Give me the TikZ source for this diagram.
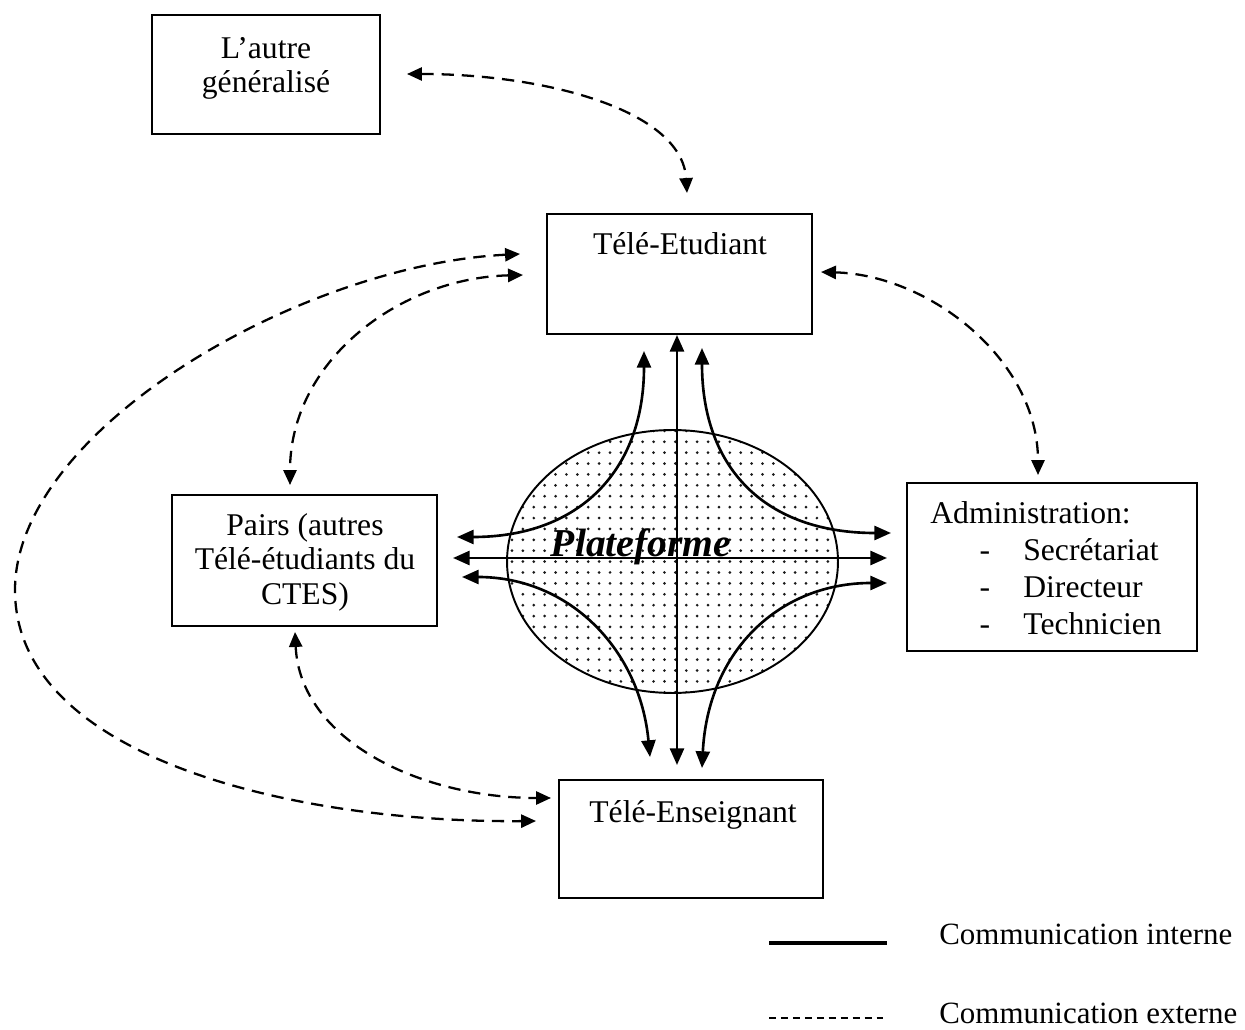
\documentclass[tikz,border=0pt]{standalone}
\usepackage{fontspec}
\setmainfont{Liberation Serif}
\usetikzlibrary{arrows.meta,patterns.meta,shapes.geometric}
\begin{document}
\begin{tikzpicture}[x=0.02cm,y=-0.02cm,
  txt/.style={font=\fontsize{18}{19.5}\selectfont, inner sep=0pt, align=center},
  box/.style={draw, line width=1.1pt, inner sep=0pt, outer sep=0pt},
  internal/.style={line width=1.5pt,
    {Triangle[length=9.5pt,width=8pt]}-{Triangle[length=9.5pt,width=8pt]}},
  external/.style={line width=1.3pt, dash pattern=on 7pt off 4.5pt,
    {Triangle[length=8.5pt,width=7.5pt]}-{Triangle[length=8.5pt,width=7.5pt]}},
]
\useasboundingbox (0,0) rectangle (1245,1030);

% platform
\node (plat) [ellipse, draw, line width=1.1pt, minimum width=6.62cm, minimum height=5.26cm,
  pattern={Dots[distance=6.2pt,radius=0.85pt]}, pattern color=black!90] at (672.5,561.5) {};

% boxes
\node (autre) [box, minimum width=4.56cm, minimum height=2.38cm] at (266,74.5) {};
\node (etud)  [box, minimum width=5.3cm,  minimum height=2.4cm]  at (679.5,274) {};
\node (pairs) [box, minimum width=5.3cm,  minimum height=2.62cm] at (304.5,560.5) {};
\node (admin) [box, minimum width=5.8cm,  minimum height=3.36cm] at (1052,567) {};
\node (ens)   [box, minimum width=5.28cm, minimum height=2.36cm] at (691,839) {};

% box texts (base anchor = last line)
\node[txt, anchor=base] (autre-t) at (266,93) {L’autre\\généralisé};
\node[txt, anchor=base] (etud-t) at (680,255) {Télé-Etudiant};
\node[txt, anchor=base] (pairs-t) at (305,604) {Pairs (autres\\Télé-étudiants du\\CTES)};
\node[txt, anchor=base] (ens-t) at (693,822) {Télé-Enseignant};
\node[txt, anchor=base west] (adm0) at (930,524) {Administration:};
\foreach \y/\s [count=\i] in {561/Secrétariat,598/Directeur,635/Technicien}{
  \node[txt, anchor=base] (dash\i) at (985,\y) {-};
  \node[txt, anchor=base west] (adm\i) at (1023,\y) {\s};
}
\node[anchor=base, inner sep=0pt, font=\fontsize{22.5}{24}\selectfont\bfseries\itshape] (plat-t) at (641,557) {Plateforme};

% end points of the connectors
\coordinate (etud-s)  at (677,335);
\coordinate (ens-n)   at (677,765);
\coordinate (pairs-e) at (453,558);
\coordinate (admin-w) at (887,558);
\coordinate (ul-a) at (644,351);  \coordinate (ul-b) at (457,537);
\coordinate (ur-a) at (702,348);  \coordinate (ur-b) at (891,533);
\coordinate (ll-a) at (462,577);  \coordinate (ll-b) at (650,757);
\coordinate (lr-a) at (887,583);  \coordinate (lr-b) at (702,768);

% internal communication
\draw[internal] (etud-s) -- (ens-n);
\draw[internal] (pairs-e) -- (admin-w);
\draw[internal] (ul-a) .. controls (644,470) and (580,537) .. (ul-b);
\draw[internal] (ur-a) .. controls (702,470) and (767,533) .. (ur-b);
\draw[internal] (ll-a) .. controls (570,577) and (640,650) .. (ll-b);
\draw[internal] (lr-a) .. controls (780,583) and (708,650) .. (lr-b);

% external communication
\coordinate (autre-e) at (407,74);   \coordinate (etud-n)  at (687,193);
\coordinate (etud-e)  at (821,272);  \coordinate (admin-n) at (1038,475);
\coordinate (etud-w1) at (520,254);  \coordinate (etud-w2) at (523,275);
\coordinate (pairs-n) at (290,485);  \coordinate (pairs-s) at (295,632);
\coordinate (ens-w1)  at (551,798);  \coordinate (ens-w2)  at (536,821);
\draw[external] (autre-e) .. controls (545,74) and (682,110) .. (etud-n);
\draw[external] (etud-e) .. controls (930,275) and (1038,360) .. (admin-n);
\draw[external] (etud-w2) .. controls (400,278) and (290,360) .. (pairs-n);
\draw[external] (etud-w1) .. controls (300,265) and (15,430) .. (15,590)
                          .. controls (15,760) and (300,823) .. (ens-w2);
\draw[external] (pairs-s) .. controls (300,740) and (420,798) .. (ens-w1);

% legend
\coordinate (li-a) at (769,943); \coordinate (li-b) at (887,943);
\coordinate (le-a) at (769,1018); \coordinate (le-b) at (883,1018);
\draw[line width=2.3pt] (li-a) -- (li-b);
\draw[line width=0.8pt, dash pattern=on 4pt off 2.8pt] (le-a) -- (le-b);
\node[txt, anchor=base west, font=\fontsize{17.6}{19.5}\selectfont] (leg-i) at (939,944) {Communication interne};
\node[txt, anchor=base west, font=\fontsize{17.6}{19.5}\selectfont] (leg-e) at (939,1023) {Communication externe};
\end{tikzpicture}
\end{document}
